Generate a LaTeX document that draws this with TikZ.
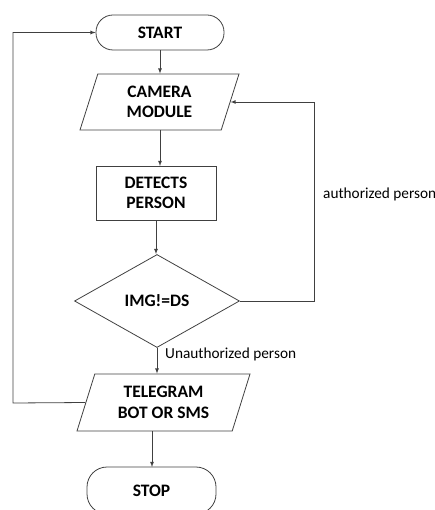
\documentclass[tikz,border=0pt]{standalone}
\usepackage{fontspec}
\setmainfont{Carlito}
\usetikzlibrary{shapes.geometric,positioning}

\begin{document}
\begin{tikzpicture}[x=1pt,y=-1pt,>=latex]
        \tikzstyle{line}=[draw=black!75,line width=0.8pt]
        \tikzstyle{term}=[line,rounded corners=17pt,minimum width=128pt,inner sep=0pt,font=\bfseries\fontsize{17.5}{20.5}\selectfont]
        \tikzstyle{io}=[line,trapezium,trapezium left angle=61,trapezium right angle=119,trapezium stretches body,inner sep=0pt,align=center,font=\bfseries\fontsize{17.5}{20.5}\selectfont]
        \tikzstyle{proc}=[line,minimum width=120pt,minimum height=54pt,inner sep=0pt,align=center,font=\bfseries\fontsize{17.5}{20.5}\selectfont]
        \tikzstyle{cond}=[line,diamond,minimum width=165pt,minimum height=93pt,inner sep=0pt,font=\bfseries\fontsize{17.5}{20.5}\selectfont]
        \tikzstyle{note}=[font=\fontsize{15.3}{18}\selectfont,inner sep=0pt]

        \path[use as bounding box,clip] (0,0) rectangle (435,510);

        \node (start)[term,minimum height=35pt] at (160,32.5) {START};
        \node (camera)[io,minimum width=159pt,minimum height=56pt] at (159.5,102) {CAMERA\\MODULE};
        \node (detects)[proc] at (156,193) {DETECTS\\PERSON};
        \node (check)[cond] at (157,301) {IMG!=DS};
        \node (telegram)[io,minimum width=173pt,minimum height=57pt] at (163.5,402.5) {TELEGRAM\\BOT OR SMS};
        \node (stop)[term,minimum width=129pt,minimum height=47pt,rounded corners=20pt] at (151.5,490.5) {STOP};

        \coordinate (rgt) at (314,301);
        \coordinate (lft) at (13,403);

        \draw[line,->] (start) -- (start |- camera.north);
        \draw[line,->] (160,130) -- (160,166);
        \draw[line,->] (detects) -- (detects |- check.north);
        \draw[line,->] (check) -- (check |- telegram.north);
        \draw[line,->] (152,431) -- (152,467);

        \draw[line,->] (check.east) -- (rgt) |- (camera.east);
        \draw[line,->] (telegram.west) -- (lft) |- (start.west);

        \node (auth)[note,anchor=west] at (323,194) {authorized person};
        \node (unauth)[note,anchor=west] at (165,354) {Unauthorized person};
    \end{tikzpicture}
\end{document}
